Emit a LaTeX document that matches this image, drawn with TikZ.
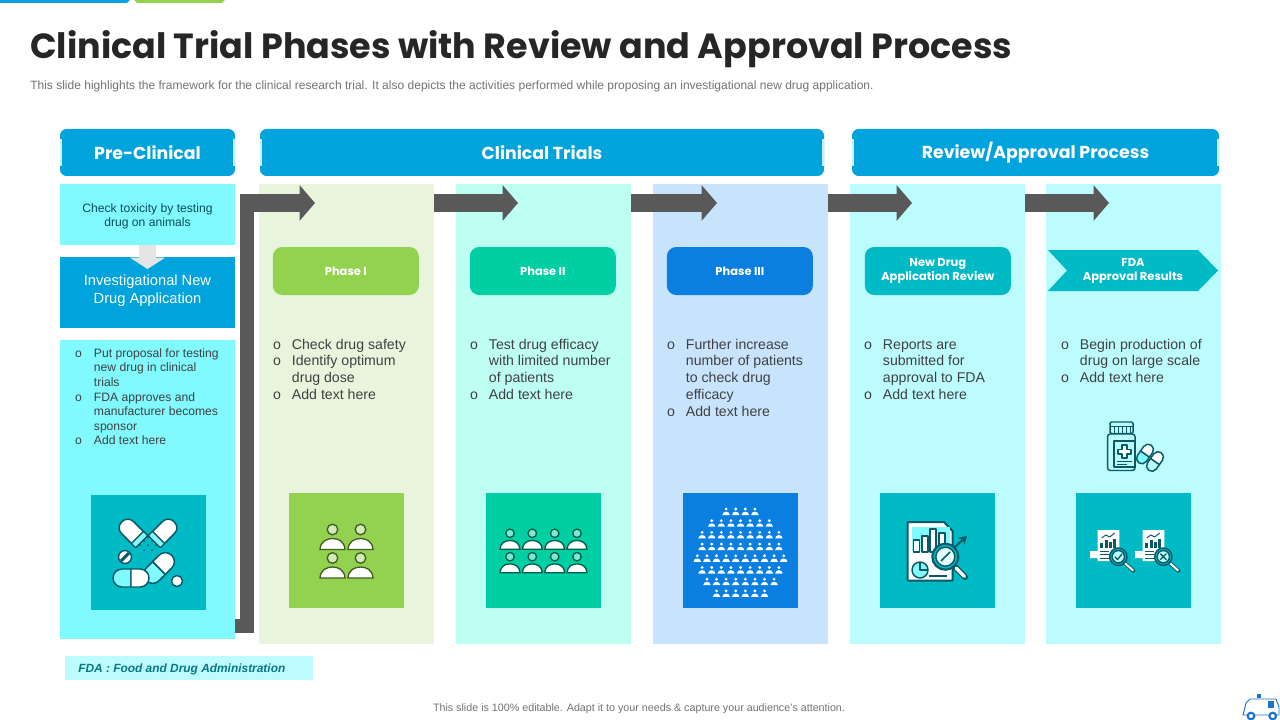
\documentclass[tikz,border=0pt]{standalone}
\usepackage{fontspec}
\usepackage{array}
\usetikzlibrary{positioning}
\usetikzlibrary{arrows.meta}
\setmainfont{Liberation Sans}
\newfontfamily\headfont{Poppins}
\definecolor{headblue}{HTML}{00A3DC}
\definecolor{notch}{HTML}{CBEFF8}
\definecolor{skycyan}{HTML}{80F9FF}
\definecolor{palecyan}{HTML}{BCFCFF}
\definecolor{palegreen}{HTML}{E9F4DC}
\definecolor{palemint}{HTML}{BDFFF2}
\definecolor{paleblue}{HTML}{C7E4FC}
\definecolor{leaf}{HTML}{92D24F}
\definecolor{mint}{HTML}{00CFA3}
\definecolor{royal}{HTML}{0B7FE0}
\definecolor{teal}{HTML}{00BAC6}
\definecolor{flowgray}{HTML}{595959}
\definecolor{inkteal}{HTML}{0A5A66}
\definecolor{bodytext}{HTML}{404040}
\definecolor{vanblue}{HTML}{1B74C9}
\tikzset{
  box/.style 2 args={rectangle,inner sep=0pt,outer sep=0pt,minimum width=#1*0.75pt,
    minimum height=#2*0.75pt,align=center},
  header/.style={box={#1}{47},fill=headblue,text=white,rounded corners=5pt,
    font=\headfont\bfseries\fontsize{13}{17}\selectfont},
  column/.style={box={175}{460},fill=#1},
  iconbox/.style={box={115}{115},fill=#1},
  phasebox/.style={box={146}{48},fill=#1,text=white,rounded corners=7pt,
    font=\headfont\bfseries\fontsize{8.6}{10.5}\selectfont},
  bullets/.style={anchor=north west,inner sep=0pt,outer sep=0pt,text=bodytext,
    font=\fontsize{10.6}{12.55}\selectfont},
  flow/.style={draw=flowgray,line width=13.5pt,
    -{Triangle[length=11.5pt,width=26pt]}},
  icon/.style={draw=inkteal,line width=1.1pt,line join=round},
  person/.pic={
    \path[icon,fill=#1] (0,0) circle[radius=5.3];
    \path[icon,fill=white] (-12.5,20) .. controls (-12,12) and (-6,9) .. (0,9)
      .. controls (6,9) and (12,12) .. (12.5,20) -- cycle;
  },
  capsule/.pic={
    \path[icon,fill=#1] (0,-9) -- (-9,-9) .. controls (-14,-9) and (-18,-5) .. (-18,0)
      .. controls (-18,5) and (-14,9) .. (-9,9) -- (0,9) -- cycle;
    \path[icon,fill=white] (0,-9) -- (9,-9) .. controls (14,-9) and (18,-5) .. (18,0)
      .. controls (18,5) and (14,9) .. (9,9) -- (0,9) -- cycle;
  },
  shell/.pic={
    \path[icon,fill=white] (16,-10) -- (-7,-10) .. controls (-13,-10) and (-17,-6) .. (-17,0)
      .. controls (-17,6) and (-13,10) .. (-7,10) -- (16,10) -- cycle;
    \fill[skycyan] (10,-9) rectangle (15,9);
    \draw[icon] (9,-10) -- (9,10);
  },
  minireport/.pic={
    \path[icon,draw=none,fill=white] (-7.7,21) rectangle (2,28) (0,0) rectangle (21.6,31);
    \draw[icon,line width=0.7pt] (4,8) -- (8,5) -- (12,7) -- (17,3);
    \foreach \bx/\by in {4/13,8.5/10,13/12,17/9}
      \fill[inkteal] (\bx-1.3,\by) rectangle (\bx+1.3,18);
    \foreach \ly in {21,24.5,28}
      \draw[icon,line width=0.7pt] (2,\ly) -- (11,\ly);
    \draw[inkteal,line width=3pt,line cap=round] (27,33) -- (35.6,40.7);
    \draw[white,line width=1.6pt,line cap=round] (27.5,33.5) -- (35.2,40.3);
    \path[icon,fill=teal] (20.6,26.7) circle[radius=8.7];
    \path[icon,fill=palecyan] (20.6,26.7) circle[radius=6.2];
  }
}
\begin{document}
\begin{tikzpicture}[x=0.75pt,y=-0.75pt]
  \useasboundingbox (0,0) rectangle (1280,720);
  \fill[white] (0,0) rectangle (1280,720);
  \fill[headblue] (0,0) -- (130,0) -- (127,3) -- (0,3) -- cycle;
  \fill[leaf] (134,0) -- (225,0) -- (222,3) -- (137,3) -- cycle;

  \node (title) at (30,49.5) [anchor=west,inner sep=0pt,text=black!85,
    font=\headfont\bfseries\fontsize{26.2}{32}\selectfont]
    {Clinical Trial Phases with Review and Approval Process};
  \node (subtitle) at (30,86.5) [anchor=west,inner sep=0pt,text=black!55,
    font=\fontsize{9.02}{11}\selectfont]
    {This slide highlights the framework for the clinical research trial. It also depicts the activities performed while proposing an investigational new drug application.};

  \node (hpre) at (147.5,152.5) [header=175] {Pre-Clinical};
  \node (htrials) at (542,152.5) [header=564] {Clinical Trials};
  \node (hreview) at (1035.5,152.5) [header=367] {Review/Approval Process};
  \foreach \h in {hpre,htrials,hreview} {
    \fill[notch] (\h.west) ++(0,-13.5) rectangle ++(2,27);
    \fill[notch] (\h.east) ++(0,-13.5) rectangle ++(-2,27);
  }

  \node (check) at (147.5,214.5) [box={175}{61},fill=skycyan] {};
  \node (checktext) at (147.5,216) [inner sep=0pt,align=center,text=inkteal!85!black,
    font=\fontsize{9.1}{10.6}\selectfont] {Check toxicity by testing\\drug on animals};
  \node (ind) at (147.5,292.5) [box={175}{71},fill=headblue] {};
  \node (indtext) at (147.5,291) [inner sep=0pt,align=center,text=white,
    font=\fontsize{11}{13.5}\selectfont] {Investigational New\\Drug Application};
  \node (prelist) at (147.5,489.5) [box={175}{299},fill=skycyan] {};
  \coordinate (droptip) at (147.5,269);
  \draw[draw=black!10,line width=12.8pt,-{Triangle[length=8.5pt,width=26pt]}]
    (check.south) -- (droptip);
  \node (pretext) at (75,347) [bullets,font=\fontsize{9.1}{10.95}\selectfont]
    {\begin{tabular}{@{}p{14.2pt}@{}l@{}}
     o & Put proposal for testing\\
       & new drug in clinical\\
       & trials\\
     o & FDA approves and\\
       & manufacturer becomes\\
       & sponsor\\
     o & Add text here
     \end{tabular}};
  \node (icon0) at (148.5,552.5) [iconbox=teal] {};

  \node (col1) at (346.5,414) [column=palegreen] {};
  \node (col2) [column=palemint,right=16.5pt of col1] {};
  \node (col3) [column=paleblue,right=16.5pt of col2] {};
  \node (col4) [column=palecyan,right=16.25pt of col3] {};
  \node (col5) [column=palecyan,right=16.25pt of col4] {};

  \node (phase1) [phasebox=leaf,below=47.25pt of col1.north,xshift=-0.5pt] {Phase I};
  \node (phase2) [phasebox=mint,below=47.25pt of col2.north,xshift=-0.5pt] {Phase II};
  \node (phase3) [phasebox=royal,below=47.25pt of col3.north,xshift=-0.5pt] {Phase III};
  \node (phase4) [phasebox=teal,below=47.25pt of col4.north,xshift=0.5pt] {New Drug\\Application Review};
  \fill[teal] (1048,250) -- (1198,250) -- (1218,270.5) -- (1198,291) -- (1048,291)
    -- (1067,270.5) -- cycle;
  \node (phase5) at (1133,270.5) [text=white,inner sep=0pt,align=center,
    font=\headfont\bfseries\fontsize{8.6}{10.5}\selectfont] {FDA\\Approval Results};

  \node (icon1) [iconbox=leaf,above=27pt of col1.south] {};
  \node (icon2) [iconbox=mint,above=27pt of col2.south] {};
  \node (icon3) [iconbox=royal,above=27pt of col3.south] {};
  \node (icon4) [iconbox=teal,above=27pt of col4.south] {};
  \node (icon5) [iconbox=teal,above=27pt of col5.south] {};

  \node (text1) at (273,337.5) [bullets]
    {\begin{tabular}{@{}p{14.2pt}@{}l@{}}
     o & Check drug safety\\
     o & Identify optimum\\
       & drug dose\\
     o & Add text here
     \end{tabular}};
  \node (text2) at (470,337.5) [bullets]
    {\begin{tabular}{@{}p{14.2pt}@{}l@{}}
     o & Test drug efficacy\\
       & with limited number\\
       & of patients\\
     o & Add text here
     \end{tabular}};
  \node (text3) at (667,337.5) [bullets]
    {\begin{tabular}{@{}p{14.2pt}@{}l@{}}
     o & Further increase\\
       & number of patients\\
       & to check drug\\
       & efficacy\\
     o & Add text here
     \end{tabular}};
  \node (text4) at (864,337.5) [bullets]
    {\begin{tabular}{@{}p{14.2pt}@{}l@{}}
     o & Reports are\\
       & submitted for\\
       & approval to FDA\\
     o & Add text here
     \end{tabular}};
  \node (text5) at (1061,337.5) [bullets]
    {\begin{tabular}{@{}p{14.2pt}@{}l@{}}
     o & Begin production of\\
       & drug on large scale\\
     o & Add text here
     \end{tabular}};

  \coordinate (elbow) at (240,203);
  \coordinate (tip1) at (315,203);
  \coordinate (tip2) at (518,203);
  \coordinate (tip3) at (717,203);
  \coordinate (tip4) at (912,203);
  \coordinate (tip5) at (1109,203);
  \draw[draw=flowgray,line width=10.5pt]
    (prelist.east |- 0,626) -- (247,626) -- (247,203);
  \draw[flow] (elbow) -- (tip1);
  \draw[flow] (col1.east |- tip2) -- (tip2);
  \draw[flow] (col2.east |- tip3) -- (tip3);
  \draw[flow] (col3.east |- tip4) -- (tip4);
  \draw[flow] (col4.east |- tip5) -- (tip5);

  % pills
  \pic at (132,532) [rotate=-45,scale=0.85] {shell};
  \pic at (164,532) [rotate=-135,scale=0.85] {shell};
  \foreach \dx/\dy in {148/537,144/541,152/541,140/545,148/545,156/545,144/550,152/550}
    \fill[inkteal] (\dx,\dy) circle[radius=1];
  \path[icon,fill=white] (125,557) circle[radius=6.5];
  \draw[inkteal,line width=2.2pt] (121,561) -- (129,553);
  \pic at (159,568) [rotate=45] {capsule=skycyan};
  \pic at (131,578) {capsule=skycyan};
  \path[icon,fill=white] (177,581) circle[radius=5.5];

  % people
  \begin{scope}[icon/.style={draw=leaf!45!black,line width=1pt}]
    \foreach \px in {332.5,360.5}
      \foreach \py in {529.5,558}
        \pic at (\px,\py) {person=palegreen!75!leaf};
  \end{scope}
  \begin{scope}[icon/.style={draw=mint!45!black,line width=1pt}]
    \foreach \px in {510,532.3,554.7,577}
      \foreach \py in {533.3,556.7}
        \pic at (\px,\py) [scale=0.8] {person=mint!50!white};
  \end{scope}
  \begin{scope}[icon/.style={draw=none}]
    \foreach \n [count=\r] in {4,7,9,9,10,9,8,6}
      \foreach \i in {1,...,\n}
        \pic at ({740.5+(\i-(\n+1)/2)*9.6},{509+(\r-1)*11.7}) [scale=0.3] {person=white};
  \end{scope}

  % report with magnifier
  \path[icon,fill=white,line width=1.5pt] (907.5,522) -- (944,522) -- (952.5,531)
    -- (952.5,580.5) -- (907.5,580.5) -- cycle;
  \fill[skycyan] (912,527) rectangle (950,551);
  \foreach \bx/\by in {916.5/540,925/536,933/529,942/533}
    \path[icon,fill=white] (\bx-3,\by) rectangle (\bx+3,552);
  \path[icon,fill=skycyan] (920,570) circle[radius=8];
  \draw[icon] (920,562) -- (920,570) -- (928,570);
  \draw[icon] (929,576) -- (947,576);
  \draw[icon,line width=1.5pt,-{Stealth[length=6pt,width=7pt]}] (945,556) -- (967,536);
  \draw[inkteal,line width=4.5pt,line cap=round] (955,567) -- (965,577);
  \draw[white,line width=2.4pt,line cap=round] (956,568) -- (964.5,576.5);
  \path[icon,line width=1.6pt,fill=teal] (945.3,556.7) circle[radius=13];
  \path[icon,fill=palecyan!40!white] (945.3,556.7) circle[radius=9.5];
  \draw[icon] (941,561) -- (950,552);

  % approval and rejection reports
  \pic at (1097.7,530) {minireport};
  \pic at (1142.7,530) {minireport};
  \draw[icon,line width=1pt] (1114.8,556.8) -- (1117.5,559.5) -- (1122,554);
  \draw[icon,line width=1pt] (1160.3,553.7) -- (1166.3,559.7) (1160.3,559.7) -- (1166.3,553.7);

  % bottle
  \path[icon,fill=palecyan,rounded corners=2pt] (1107.5,434) rectangle (1135,470.5);
  \path[icon,fill=palecyan,rounded corners=1pt] (1110,422) rectangle (1133,433.5);
  \foreach \cx in {1114,1118,1122,1126,1130}
    \draw[icon,line width=0.7pt] (\cx,426) -- (\cx,433);
  \draw[icon,line width=0.7pt] (1110,426) -- (1133,426);
  \path[icon,fill=palecyan] (1114,441) rectangle (1135,467);
  \path[icon,fill=white] (1122,445) -- (1127,445) -- (1127,449.5) -- (1131,449.5) -- (1131,454)
    -- (1127,454) -- (1127,458) -- (1122,458) -- (1122,454) -- (1118,454) -- (1118,449.5)
    -- (1122,449.5) -- cycle;
  \draw[icon,line width=0.7pt] (1117,461) -- (1132,461) (1117,464) -- (1127,464);
  \pic at (1145,454) [rotate=55,scale=0.6] {capsule=skycyan};
  \pic at (1155,461.5) [rotate=55,scale=0.6] {capsule=palecyan};

  \node (fda) at (189,668) [box={248}{24},fill=palecyan] {};
  \node (fdatext) at (78,669.5) [anchor=west,inner sep=0pt,text=inkteal!70!teal,
    font=\bfseries\itshape\fontsize{8.93}{11}\selectfont] {FDA : Food and Drug Administration};
  \node (footer) at (639,709) [inner sep=0pt,text=black!55,
    font=\fontsize{8.04}{10}\selectfont]
    {This slide is 100\% editable. Adapt it to your needs \& capture your audience's attention.};

  % ambulance
  \path[draw=vanblue,line width=0.7pt,fill=white] (1243,715) -- (1246,703) -- (1250,699)
    -- (1276,699) -- (1279,707) -- (1279,715) -- cycle;
  \fill[vanblue] (1268,701) rectangle (1274,708);
  \fill[vanblue] (1257,694) rectangle (1261,698);
  \foreach \wx in {1251,1272.7} {
    \path[draw=vanblue,line width=1.6pt,fill=white] (\wx,716) circle[radius=3.3];
  }
\end{tikzpicture}
\end{document}
